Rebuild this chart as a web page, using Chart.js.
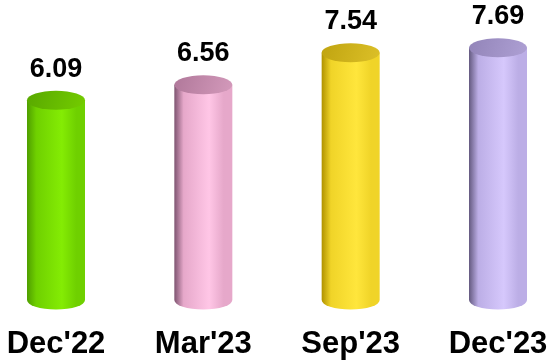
<!DOCTYPE html>
<html>
<head>
<meta charset="utf-8">
<script src="https://cdn.jsdelivr.net/npm/chart.js@4.4.1/dist/chart.umd.min.js"></script>
<style>
html,body{margin:0;padding:0;background:#fff;}
#wrap{width:557px;height:361px;position:relative;}
</style>
</head>
<body>
<div id="wrap"><canvas id="c" width="557" height="361"></canvas></div>
<script>
const categories = ["Dec'22", "Mar'23", "Sep'23", "Dec'23"];
const values = [6.09, 6.56, 7.54, 7.69];
const valueLabels = ["6.09", "6.56", "7.54", "7.69"];

// styles
const palette = [
  {dark:'#4f9e00', mid:'#6fd000', light:'#84ec04', topA:'#58a800', topB:'#74cc00'},
  {dark:'#7e5470', mid:'#e6a8ca', light:'#ffc6e6', topA:'#b0789a', topB:'#d49abb'},
  {dark:'#b09200', mid:'#f0d428', light:'#ffe63c', topA:'#c0a410', topB:'#dcc028'},
  {dark:'#645a80', mid:'#bcaee6', light:'#d6c8fc', topA:'#9284b8', topB:'#aea0d4'}
];

const cylinderPlugin = {
  id: 'cylinders',
  afterDatasetsDraw(chart) {
    const ctx = chart.ctx;
    const meta = chart.getDatasetMeta(0);
    meta.data.forEach((bar, i) => {
      const p = palette[i];
      const cx = bar.x, top = bar.y, base = bar.base;
      const rx = bar.width / 2, ry = 9.5;
      const L = cx - rx, R = cx + rx;
      ctx.save();
      const g = ctx.createLinearGradient(L, 0, R, 0);
      g.addColorStop(0, p.dark);
      g.addColorStop(0.16, p.mid);
      g.addColorStop(0.6, p.light);
      g.addColorStop(0.85, p.mid);
      g.addColorStop(1, p.mid);
      ctx.beginPath();
      ctx.moveTo(L, top);
      ctx.lineTo(L, base);
      ctx.ellipse(cx, base, rx, ry, 0, Math.PI, 0, true);
      ctx.lineTo(R, top);
      ctx.closePath();
      ctx.fillStyle = g;
      ctx.fill();
      const gt = ctx.createLinearGradient(L, top - ry, R, top + ry);
      gt.addColorStop(0, p.topA);
      gt.addColorStop(1, p.topB);
      ctx.beginPath();
      ctx.ellipse(cx, top, rx, ry, 0, 0, Math.PI * 2);
      ctx.fillStyle = gt;
      ctx.fill();
      ctx.fillStyle = '#000';
      ctx.font = 'bold 27px "Liberation Sans", Arial, sans-serif';
      ctx.textAlign = 'center';
      ctx.textBaseline = 'alphabetic';
      ctx.fillText(valueLabels[i], cx, top - ry - 14);
      ctx.restore();
    });
  }
};

new Chart(document.getElementById('c'), {
  type: 'bar',
  data: {
    labels: categories,
    datasets: [{
      data: values,
      backgroundColor: 'rgba(0,0,0,0)',
      borderWidth: 0,
      barThickness: 58
    }]
  },
  options: {
    responsive: false,
    animation: false,
    events: [],
    layout: { padding: { left: 56, right: 59, top: 4.8, bottom: 0 } },
    plugins: { legend: { display: false }, tooltip: { enabled: false } },
    scales: {
      x: {
        offset: false,
        grid: { display: false, drawTicks: false },
        border: { display: false },
        afterFit(scale) {
          scale.paddingLeft = 0;
          scale.paddingRight = 0;
          scale.height = 61;
        },
        ticks: {
          color: '#000',
          padding: 26,
          maxRotation: 0,
          autoSkip: false,
          font: { family: '"Liberation Sans", Arial, sans-serif', size: 31, weight: 'bold' }
        }
      },
      y: {
        display: false,
        min: 0,
        max: 9
      }
    }
  },
  plugins: [cylinderPlugin]
});
</script>
</body>
</html>
